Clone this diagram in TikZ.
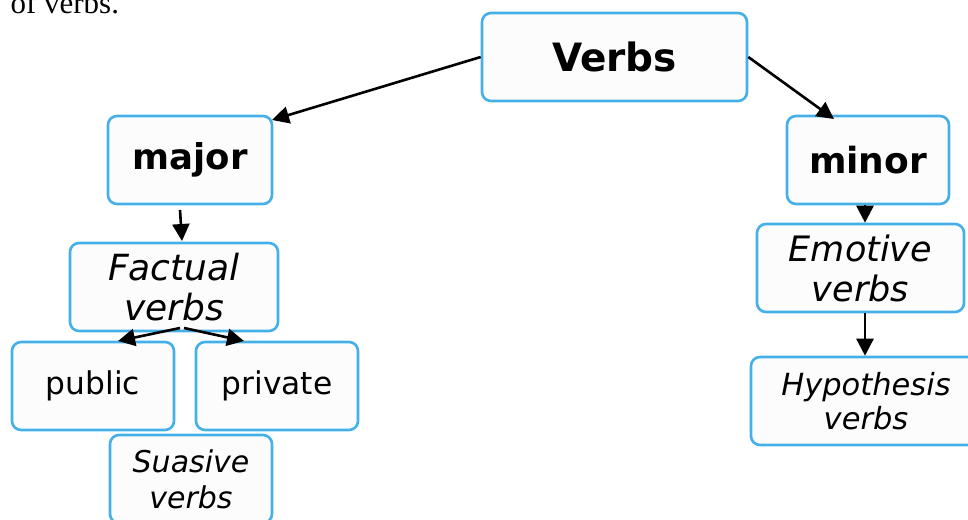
\documentclass[tikz,border=0pt]{standalone}
\usepackage{fontspec}
\setmainfont{DejaVu Sans}
\newfontfamily\serifx{Liberation Serif}
\usetikzlibrary{arrows.meta}
\definecolor{boxblue}{HTML}{45B0E8}
\definecolor{boxfill}{HTML}{FCFCFC}
\newcommand{\fs}[1]{\fontsize{#1}{1.2\dimexpr #1pt\relax}\selectfont}
\begin{document}
\begin{tikzpicture}[x=1pt,y=-1pt,
  box/.style={draw=boxblue, line width=2.6pt, rounded corners=9pt, fill=boxfill,
    align=center, inner sep=0pt, minimum height=88pt},
  arr/.style={-{Triangle[length=17pt,width=17pt]}, line width=2.6pt}]
\useasboundingbox (0,0) rectangle (968,519);
\node[anchor=base west, font=\serifx\fontsize{31}{36}\selectfont] (top) at (7,14) {of verbs.};
\node[box, minimum width=265pt, font=\bfseries\fs{39}] (verbs) at (614.5,57) {Verbs};
\node[box, minimum width=164pt, font=\bfseries\fs{35.5}] (major) at (190,160) {major};
\node[box, minimum width=208pt, font=\itshape\fontsize{36}{40}\selectfont] (fact) at (174,287) {Factual\\verbs};
\node[box, minimum width=162pt, font=\fs{31.3}] (pub) at (93,386) {public};
\node[box, minimum width=162pt, font=\fs{31.3}] (priv) at (277,386) {private};
\node[box, minimum width=162pt, font=\itshape\fontsize{30}{36}\selectfont] (sua) at (191,479) {Suasive\\verbs};
\node[box, minimum width=162pt, font=\bfseries\fs{36}] (minor) at (868,160) {minor};
\node[box, minimum width=207pt, font=\itshape\fontsize{35}{40}\selectfont] (emo) at (860.5,268) {Emotive\\verbs};
\node[box, minimum width=230pt, font=\itshape\fontsize{30.5}{34}\selectfont] (hyp) at (866,401) {Hypothesis\\verbs};
\coordinate (ma) at (272,120);
\coordinate (mi) at (834,119);
\coordinate (mb) at (180,210);
\coordinate (fa) at (182,241);
\coordinate (f1) at (180,328);
\coordinate (f2) at (184,328);
\coordinate (pa) at (118,341);
\coordinate (qa) at (244,341);
\coordinate (nb) at (865,205);
\draw[arr] (verbs.west) -- (ma);
\draw[arr] (verbs.east) -- (mi);
\draw[arr] (mb) -- (fa);
\draw[arr] (f1) -- (pa);
\draw[arr] (f2) -- (qa);
\draw[arr] (nb) -- (emo.north -| nb);
\draw[arr] (emo.south -| nb) -- (hyp.north -| nb);
\end{tikzpicture}
\end{document}
